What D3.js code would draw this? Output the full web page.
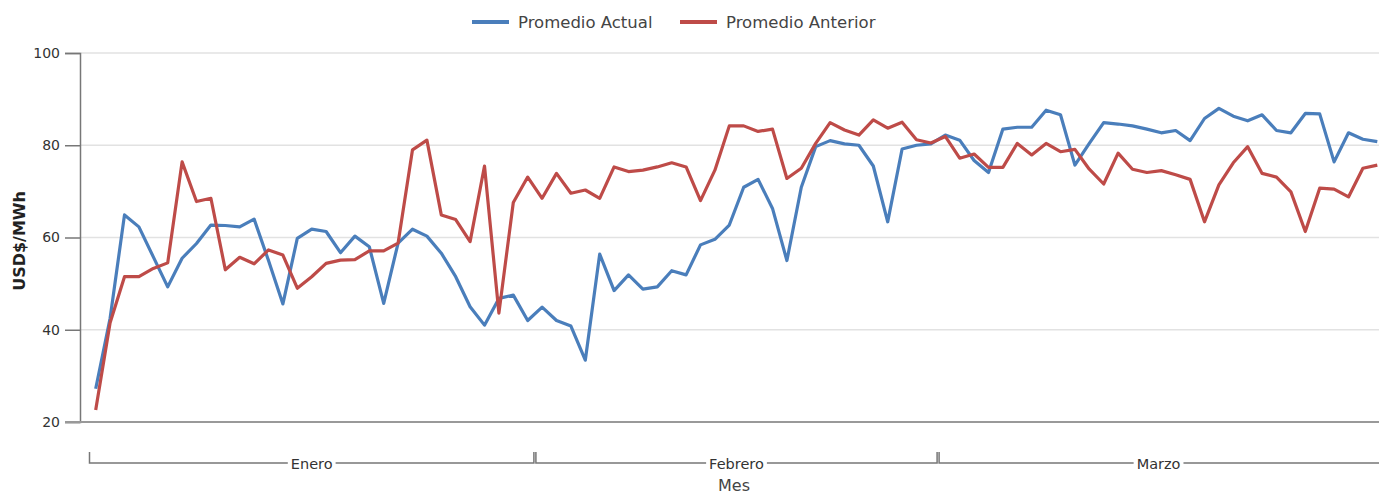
<!DOCTYPE html>
<html>
<head>
<meta charset="utf-8">
<script src="https://cdn.jsdelivr.net/npm/d3@7"></script>
<style>
  body { margin: 0; background: #fff; }
  text { font-family: "DejaVu Sans", sans-serif; fill: #333; }
</style>
</head>
<body>
<div id="vis"></div>
<script>
var width = 1379;
var height = 497;

// months on the lower axis and how many daily points each holds
var months = ['Enero', 'Febrero', 'Marzo'];
var monthDays = [31, 28, 31];

var yTicks = [20, 40, 60, 80, 100];

// daily averages, USD$/MWh
var promedioActual = [
  27.2, 42.5, 64.9, 62.3, 55.8, 49.3, 55.5, 58.7, 62.7, 62.6,
  62.3, 64.0, 55.0, 45.6, 59.8, 61.8, 61.3, 56.7, 60.3, 58.0,
  45.7, 58.8, 61.8, 60.3, 56.6, 51.5, 45.0, 41.0, 46.8, 47.5,
  42.0, 44.9, 42.0, 40.8, 33.4, 56.4, 48.5, 51.9, 48.8, 49.3,
  52.8, 51.9, 58.4, 59.6, 62.7, 70.9, 72.6, 66.3, 55.0, 70.9,
  79.7, 81.0, 80.3, 80.0, 75.5, 63.4, 79.2, 80.0, 80.3, 82.2,
  81.1, 76.7, 74.1, 83.5, 83.9, 83.9, 87.6, 86.6, 75.7, 80.4,
  84.9, 84.6, 84.2, 83.5, 82.7, 83.2, 81.0, 85.8, 88.0, 86.3,
  85.3, 86.6, 83.2, 82.7, 86.9, 86.8, 76.4, 82.7, 81.3, 80.8
];

var promedioAnterior = [
  22.6, 41.5, 51.5, 51.5, 53.3, 54.5, 76.4, 67.8, 68.5, 53.0,
  55.7, 54.3, 57.3, 56.2, 49.0, 51.5, 54.4, 55.1, 55.2, 57.1,
  57.1, 58.8, 79.0, 81.1, 64.9, 63.9, 59.1, 75.5, 43.6, 67.6,
  73.1, 68.5, 73.9, 69.6, 70.3, 68.5, 75.3, 74.3, 74.6, 75.3,
  76.2, 75.3, 68.0, 74.6, 84.2, 84.2, 83.0, 83.5, 72.8, 75.0,
  80.4, 84.9, 83.3, 82.2, 85.5, 83.7, 85.0, 81.2, 80.5, 81.9,
  77.2, 78.1, 75.2, 75.2, 80.4, 77.9, 80.4, 78.6, 79.1, 74.8,
  71.6, 78.3, 74.8, 74.1, 74.5, 73.6, 72.6, 63.4, 71.4, 76.2,
  79.7, 73.9, 73.1, 69.9, 61.3, 70.7, 70.5, 68.8, 75.0, 75.7
];

var series = [
  { name: 'Promedio Actual', values: promedioActual, color: '#4a7ebb' },
  { name: 'Promedio Anterior', values: promedioAnterior, color: '#be4b48' }
];

var svg = d3.select('#vis').append('svg')
  .attr('width', width)
  .attr('height', height);

var nDays = d3.sum(monthDays);

var x = d3.scaleBand()
  .domain(d3.range(nDays))
  .range([88.5, 88.5 + nDays * 14.4]);

var y = d3.scaleLinear()
  .domain([20, 100])
  .range([422, 53]);

function cx(i) { return x(i) + x.bandwidth() / 2; }

// gridlines
svg.append('g')
  .selectAll('line')
  .data(yTicks.slice(1))
  .enter().append('line')
    .attr('x1', 80).attr('x2', width)
    .attr('y1', function (d) { return y(d); })
    .attr('y2', function (d) { return y(d); })
    .attr('stroke', '#e2e2e2')
    .attr('stroke-width', 1.5);

// y axis
var yAxis = svg.append('g')
  .attr('transform', 'translate(80,0)')
  .call(d3.axisLeft(y).tickValues(yTicks).tickSize(15).tickPadding(5));
yAxis.select('.domain').attr('stroke', '#777').attr('stroke-width', 1.5);
yAxis.selectAll('.tick line').attr('stroke', '#777').attr('stroke-width', 1.5);
yAxis.selectAll('.tick text')
  .style('font-family', '"DejaVu Sans", sans-serif')
  .style('font-size', '14px')
  .attr('fill', '#333');

// bottom baseline
svg.append('line')
  .attr('x1', 65).attr('x2', width)
  .attr('y1', y(20)).attr('y2', y(20))
  .attr('stroke', '#999')
  .attr('stroke-width', 2);

// y title
svg.append('text')
  .attr('transform', 'translate(25,241) rotate(-90)')
  .attr('text-anchor', 'middle')
  .style('font-size', '16px')
  .style('font-weight', 'bold')
  .style('fill', '#222')
  .text('USD$/MWh');

// lines
var line = d3.line()
  .x(function (d, i) { return cx(i); })
  .y(function (d) { return y(d); });

svg.append('g')
  .selectAll('path')
  .data(series)
  .enter().append('path')
    .attr('d', function (s) { return line(s.values); })
    .attr('fill', 'none')
    .attr('stroke', function (s) { return s.color; })
    .attr('stroke-width', 3.2)
    .attr('stroke-linejoin', 'round');

// month brackets
var starts = [0];
monthDays.forEach(function (n, i) { starts.push(starts[i] + n); });

var monthData = months.map(function (m, i) {
  var x0 = x(starts[i]);
  var x1 = starts[i + 1] < nDays ? x(starts[i + 1]) : width + 10;
  return { name: m, x0: x0, x1: x1 };
});

var mg = svg.append('g').selectAll('g')
  .data(monthData)
  .enter().append('g');

mg.append('path')
  .attr('d', function (d) {
    return 'M' + (d.x0 + 1) + ',452V463H' + (d.x1 - 1) + 'V452';
  })
  .attr('fill', 'none')
  .attr('stroke', '#777')
  .attr('stroke-width', 1.5);

mg.append('rect')
  .attr('y', 455)
  .attr('height', 16)
  .attr('fill', '#fff');

mg.append('text')
  .attr('x', function (d) { return (d.x0 + d.x1) / 2 - (d.x1 > width ? 5 : 0); })
  .attr('y', 464)
  .attr('dy', '0.35em')
  .attr('text-anchor', 'middle')
  .style('font-size', '14.5px')
  .text(function (d) { return d.name; })
  .each(function (d) {
    var w = this.getComputedTextLength();
    d3.select(this.parentNode).select('rect')
      .attr('x', d3.select(this).attr('x') - w / 2 - 3)
      .attr('width', w + 6);
  });

// x title
svg.append('text')
  .attr('x', 734)
  .attr('y', 485)
  .attr('dy', '0.35em')
  .attr('text-anchor', 'middle')
  .style('font-size', '16px')
  .style('fill', '#444')
  .text('Mes');

// legend
var legendX = [472, 680];
var lg = svg.append('g').selectAll('g')
  .data(series)
  .enter().append('g')
    .attr('transform', function (d, i) { return 'translate(' + legendX[i] + ',22)'; });

lg.append('line')
  .attr('x1', 0).attr('x2', 37)
  .attr('stroke', function (d) { return d.color; })
  .attr('stroke-width', 4);

lg.append('text')
  .attr('x', 46)
  .attr('dy', '0.35em')
  .style('font-size', '16.5px')
  .style('fill', '#444')
  .text(function (d) { return d.name; });
</script>
</body>
</html>
